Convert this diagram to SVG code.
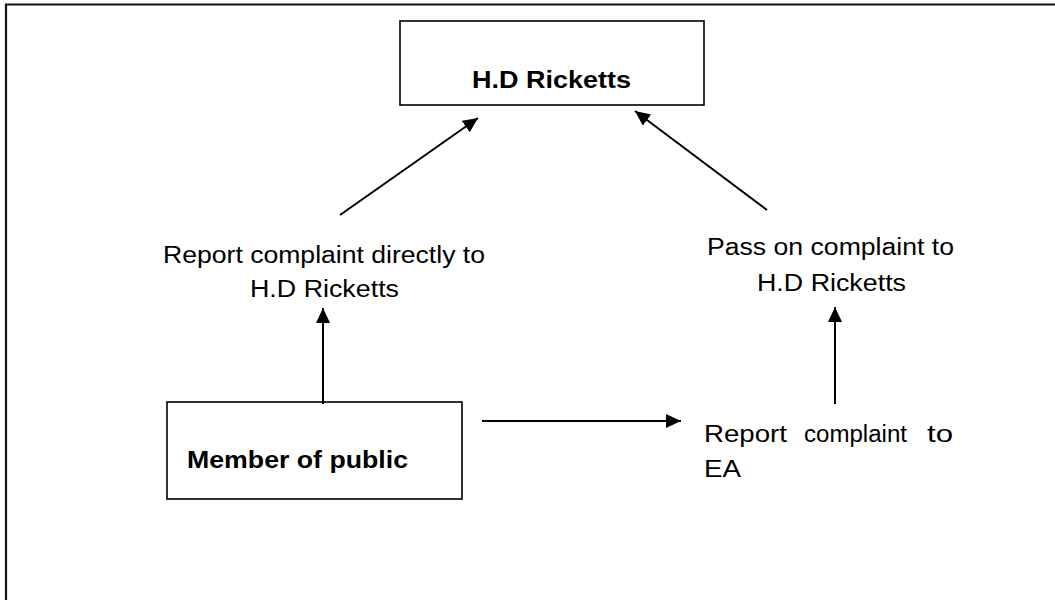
<svg xmlns="http://www.w3.org/2000/svg" width="1055" height="600" viewBox="0 0 1055 600">
<style>
.t{font-family:"Liberation Sans",Arial,sans-serif;font-size:23.5px;fill:#000}
.b{font-weight:bold}
.box{fill:#fff;stroke:#000;stroke-width:1.6}
.c{stroke:#000;stroke-width:2;fill:none}
</style>
<defs>
<marker id="ah" markerUnits="userSpaceOnUse" markerWidth="16" markerHeight="16" refX="15" refY="7" orient="auto">
<path d="M0,0 L15,7 L0,14 Z" fill="#000"/>
</marker>
</defs>
<rect width="1055" height="600" fill="#fff"/>
<path d="M6,605 L6,4.5 L1060,4.5" fill="none" stroke="#111" stroke-width="2.2"/>
<g id="hd-ricketts">
<rect class="box" x="400" y="21" width="304" height="84"/>
<text class="t b" x="472" y="88" textLength="159" lengthAdjust="spacingAndGlyphs">H.D Ricketts</text>
</g>
<g id="report-directly">
<text class="t" x="163" y="263" textLength="322" lengthAdjust="spacingAndGlyphs">Report complaint directly to</text>
<text class="t" x="250" y="297" textLength="149" lengthAdjust="spacingAndGlyphs">H.D Ricketts</text>
</g>
<g id="pass-on">
<text class="t" x="707" y="255" textLength="247" lengthAdjust="spacingAndGlyphs">Pass on complaint to</text>
<text class="t" x="757" y="291" textLength="149" lengthAdjust="spacingAndGlyphs">H.D Ricketts</text>
</g>
<g id="member-of-public">
<rect class="box" x="167" y="402" width="295" height="97"/>
<text class="t b" x="187" y="468" textLength="221" lengthAdjust="spacingAndGlyphs">Member of public</text>
</g>
<g id="report-ea">
<text class="t" x="704" y="442" textLength="83" lengthAdjust="spacingAndGlyphs">Report</text>
<text class="t" x="804" y="442" textLength="103" lengthAdjust="spacingAndGlyphs">complaint</text>
<text class="t" x="927" y="442" textLength="26" lengthAdjust="spacingAndGlyphs">to</text>
<text class="t" x="704" y="477" textLength="37" lengthAdjust="spacingAndGlyphs">EA</text>
</g>
<g id="connectors">
<line class="c" x1="340" y1="215" x2="478" y2="118" marker-end="url(#ah)"/>
<line class="c" x1="767" y1="210" x2="635" y2="111" marker-end="url(#ah)"/>
<line class="c" x1="323" y1="404" x2="323" y2="308" marker-end="url(#ah)"/>
<line class="c" x1="835" y1="404" x2="835" y2="307" marker-end="url(#ah)"/>
<line class="c" x1="482" y1="421" x2="681" y2="421" marker-end="url(#ah)"/>
</g>
</svg>
